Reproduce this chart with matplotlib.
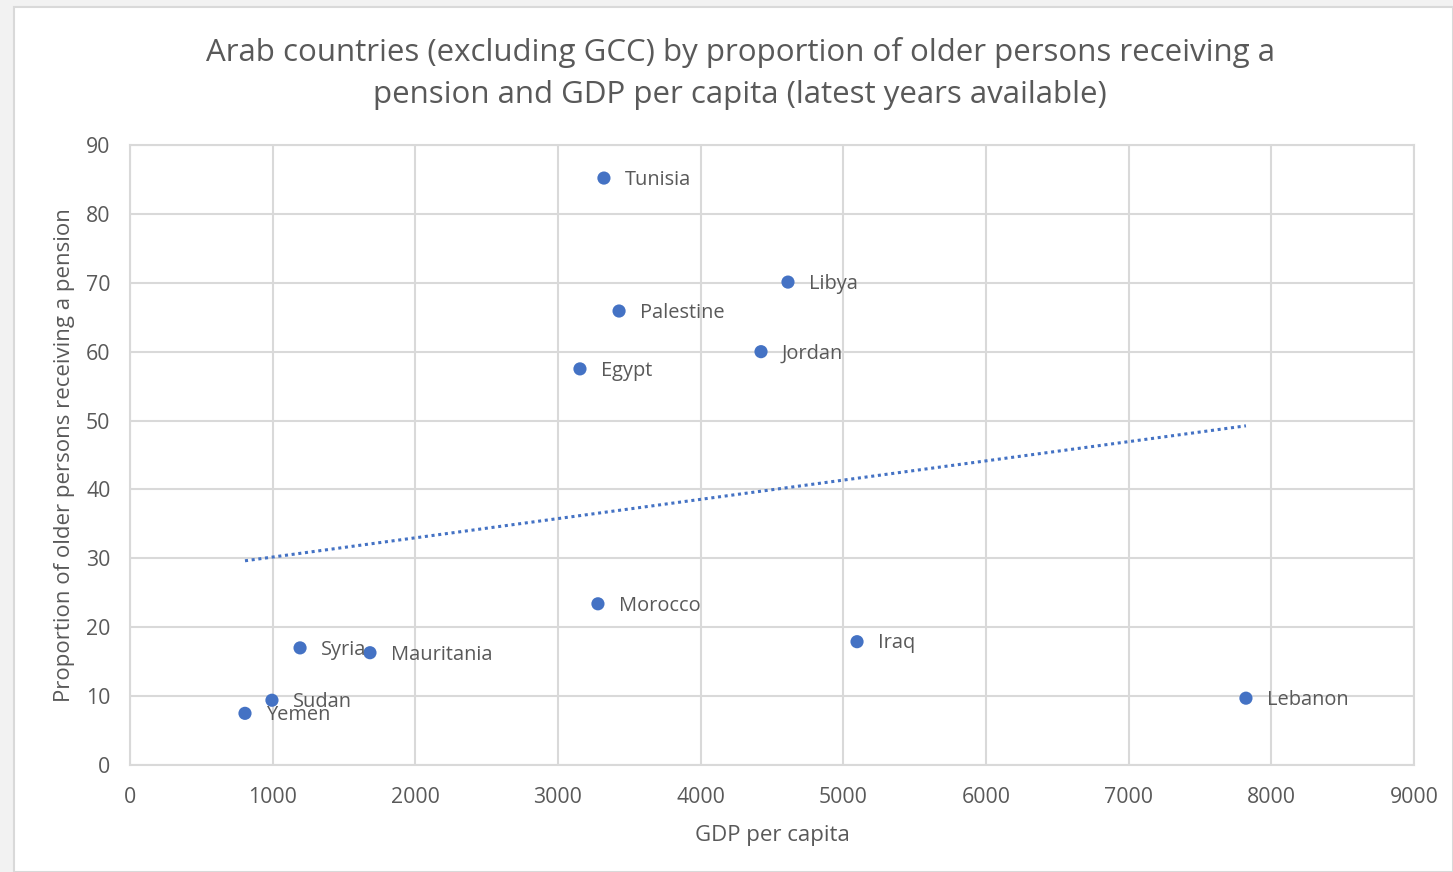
import numpy as np
import matplotlib
matplotlib.use("Agg")
import matplotlib.pyplot as plt
from matplotlib.patches import Rectangle

countries = ["Tunisia", "Libya", "Palestine", "Jordan", "Egypt", "Morocco",
             "Iraq", "Lebanon", "Syria", "Mauritania", "Sudan", "Yemen"]
gdp = [3322, 4612, 3428, 4423, 3154, 3280, 5096, 7822, 1192, 1682, 995, 806]
pension = [85.2, 70.1, 65.9, 60.0, 57.5, 23.4, 17.9, 9.7, 17.0, 16.3, 9.4, 7.5]
x_ticks = [0, 1000, 2000, 3000, 4000, 5000, 6000, 7000, 8000, 9000]
y_ticks = [0, 10, 20, 30, 40, 50, 60, 70, 80, 90]

plt.rcParams['font.family'] = ['Open Sans', 'DejaVu Sans']
txt = '#595959'
blue = '#4472C4'
grid = '#D9D9D9'

W, H = 1453, 872
fig = plt.figure(figsize=(W / 100, H / 100), dpi=100, facecolor='#F2F2F2')
bg = Rectangle((14 / W, 0), 1 - 14 / W, 1 - 7 / H, transform=fig.transFigure,
               facecolor='white', edgecolor='#D9D9D9', linewidth=1.5, zorder=-10)
fig.patches.append(bg)

ax = fig.add_axes([130 / W, 1 - 765 / H, (1414 - 130) / W, (765 - 145) / H], zorder=5)
ax.set_facecolor('none')
ax.set_xlim(0, 9000)
ax.set_ylim(0, 90)
ax.set_xticks(x_ticks)
ax.set_yticks(y_ticks)
ax.grid(True, color=grid, linewidth=1.5)
ax.set_axisbelow(True)
for s in ax.spines.values():
    s.set_color(grid)
    s.set_linewidth(1.5)
ax.tick_params(length=0, labelsize=15.3, labelcolor=txt, pad=14)
ax.tick_params(axis='x', pad=15.5)

ax.scatter(gdp, pension, s=90, color=blue, zorder=3, edgecolors='none')
for c, x, y in zip(countries, gdp, pension):
    ax.annotate(c, (x, y), xytext=(15, -1.3), textcoords='offset points',
                va='center', ha='left', fontsize=14.4, color=txt, zorder=4)

coef = np.polyfit(gdp, pension, 1)
xs = np.array([min(gdp), max(gdp)])
ax.plot(xs, np.polyval(coef, xs), linestyle=(0, (1, 1.2)), color=blue, linewidth=2.2, zorder=2)

ax.set_xlabel("GDP per capita", fontsize=16, color=txt, labelpad=12.5)
ax.set_ylabel("Proportion of older persons receiving a pension", fontsize=16, color=txt, labelpad=8)

fig.text(740 / W, 1 - 73.5 / H,
         "Arab countries (excluding GCC) by proportion of older persons receiving a\n"
         "pension and GDP per capita (latest years available)",
         ha='center', va='center', fontsize=22.5, color=txt, linespacing=1.5)

fig.savefig("out.png", dpi=100, facecolor=fig.get_facecolor())
